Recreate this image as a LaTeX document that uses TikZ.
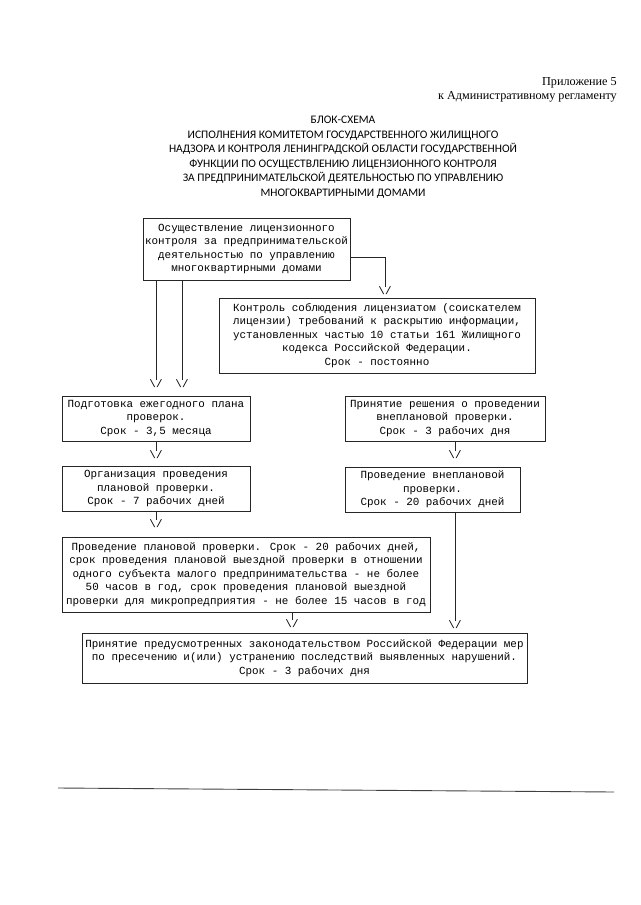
\documentclass[tikz,border=0pt]{standalone}
\usepackage{fontspec}
\setmainfont{Liberation Serif}
\newfontfamily\boxfont{Liberation Mono}
\newfontfamily\headfont{Carlito}
\usetikzlibrary{positioning}

\begin{document}
\begin{tikzpicture}[x=1pt,y=-1pt,node distance=70pt,
        box/.style={draw=black!85,line width=0.8pt,align=center,inner sep=2pt,
                    font=\boxfont\fontsize{10.9}{13.5}\selectfont},
        tip/.style={inner sep=0pt,font=\boxfont\fontsize{10.9}{13.5}\selectfont},
        link/.style={draw=black!85,line width=0.8pt}]
        \useasboundingbox (0,0) rectangle (640,905);
        \node[anchor=north east,align=right,inner sep=0pt,font=\fontsize{12.2}{14.5}\selectfont] (app) at (617,77)
            {Приложение 5\\к Административному регламенту};
        \node[align=center,font=\headfont\fontsize{11.5}{14.5}\selectfont] (title) at (343,157)
            {БЛОК-СХЕМА\\ИСПОЛНЕНИЯ КОМИТЕТОМ ГОСУДАРСТВЕННОГО ЖИЛИЩНОГО\\НАДЗОРА И КОНТРОЛЯ ЛЕНИНГРАДСКОЙ ОБЛАСТИ ГОСУДАРСТВЕННОЙ\\ФУНКЦИИ ПО ОСУЩЕСТВЛЕНИЮ ЛИЦЕНЗИОННОГО КОНТРОЛЯ\\ЗА ПРЕДПРИНИМАТЕЛЬСКОЙ ДЕЯТЕЛЬНОСТЬЮ ПО УПРАВЛЕНИЮ\\МНОГОКВАРТИРНЫМИ ДОМАМИ};
        % blocks
        \node[box,minimum width=207pt,minimum height=62pt] (lic) at (246.5,249)
            {Осуществление лицензионного\\контроля за предпринимательской\\деятельностью по управлению\\многоквартирными домами};
        \node[box,minimum width=316pt,minimum height=75pt] (ctrl) at (377,335.5)
            {Контроль соблюдения лицензиатом (соискателем\\лицензии) требований к раскрытию информации,\\установленных частью 10 статьи 161 Жилищного\\кодекса Российской Федерации.\\Срок - постоянно};
        \node[box,minimum width=188pt,minimum height=45pt] (plan) at (156,418.5)
            {Подготовка ежегодного плана\\проверок.\\Срок - 3,5 месяца};
        \node[box,minimum width=188pt,minimum height=45pt] (orgplan) [below of=plan]
            {Организация проведения\\плановой проверки.\\Срок - 7 рабочих дней};
        \node[box,minimum width=368pt,minimum height=75pt] (doplan) at (246,574.5)
            {Проведение плановой проверки. Срок - 20 рабочих дней,\\срок проведения плановой выездной проверки в отношении\\одного субъекта малого предпринимательства - не более\\50 часов в год, срок проведения плановой выездной\\проверки для микропредприятия - не более 15 часов в год};
        \node[box,minimum width=200pt,minimum height=45pt] (decide) at (445,418.5)
            {Принятие решения о проведении\\внеплановой проверки.\\Срок - 3 рабочих дня};
        \node[box,minimum width=175pt,minimum height=45pt] (unplan) at (432.5,489.5)
            {Проведение внеплановой\\проверки.\\Срок - 20 рабочих дней};
        \node[box,minimum width=445pt,minimum height=50pt] (measures) at (304.5,658)
            {Принятие предусмотренных законодательством Российской Федерации мер\\по пресечению и(или) устранению последствий выявленных нарушений.\\Срок - 3 рабочих дня};
        % arrow tips
        \node[tip] (t1) at (156,384) {\textbackslash/};
        \node[tip] (t2) at (182,384) {\textbackslash/};
        \node[tip] (t3) at (385,291) {\textbackslash/};
        \node[tip] (t4) at (156,455) {\textbackslash/};
        \node[tip] (t5) at (156,524) {\textbackslash/};
        \node[tip] (t6) at (292,624) {\textbackslash/};
        \node[tip] (t7) at (455,455) {\textbackslash/};
        \node[tip] (t8) at (455,625) {\textbackslash/};
        \path[link]
        (t1 |- lic.south) edge (t1.north)
        (t2 |- lic.south) edge (t2.north)
        (t4 |- plan.south) edge (t4.north)
        (t5 |- orgplan.south) edge (t5.north)
        (t6 |- doplan.south) edge (t6.north)
        (t7 |- decide.south) edge (t7.north)
        (t8 |- unplan.south) edge (t8.north)
        ;
        \draw[link] ([yshift=-8pt]lic.east) -| (t3.north);
        % footer rule
        \draw[black!75,line width=0.9pt] (58,788) -- (614,792);
        \end{tikzpicture}
\end{document}
